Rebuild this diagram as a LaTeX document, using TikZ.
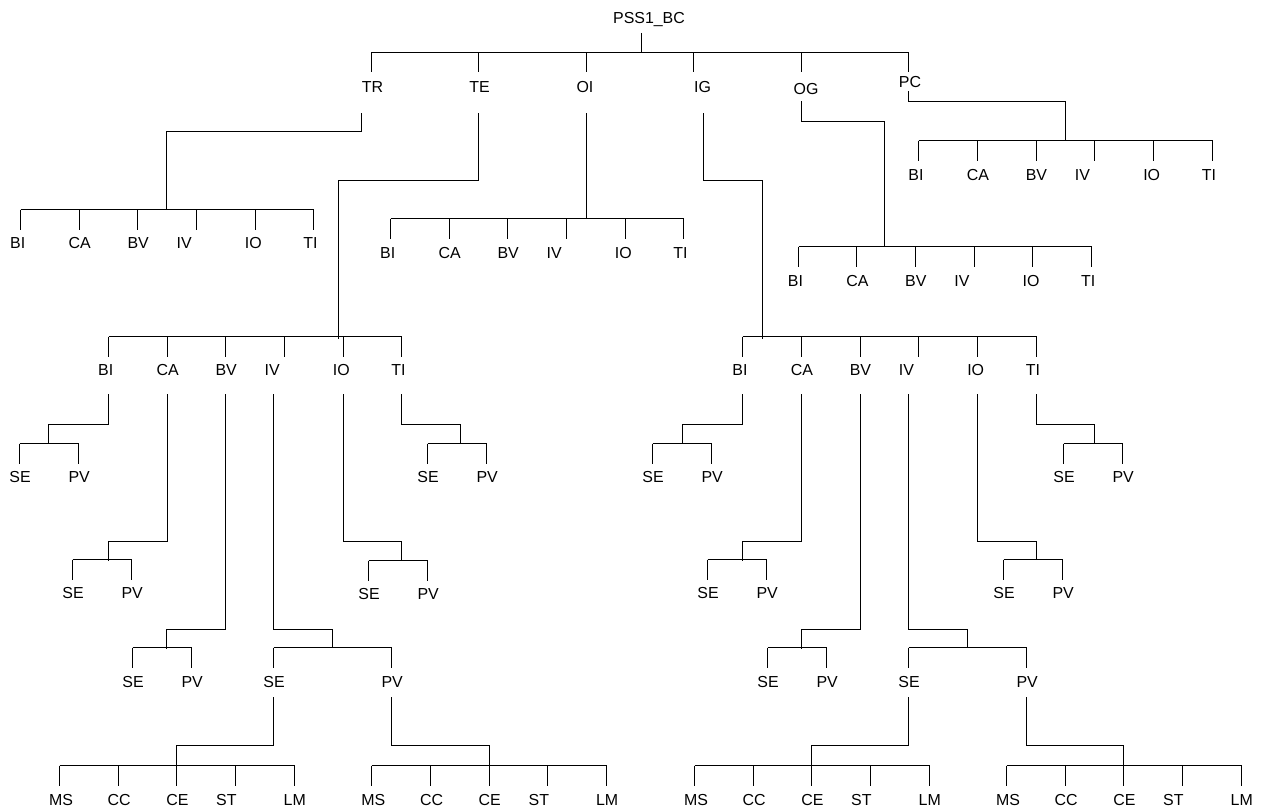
\documentclass[tikz,border=0pt]{standalone}
\usepackage{fontspec}
\setmainfont{Liberation Sans}
\tikzset{
  ln/.style={line width=1.6bp, black},
  lbl/.style={anchor=base, inner sep=0pt, font=\fontsize{16}{19}\selectfont}
}
% six-child group: prefix, first x, bar y, label baseline
\newcommand\sixgrp[4]{%
  \draw[ln] ({round(#2)+0.5},#3) -- ({round(#2+293.35)+0.5},#3);
  \foreach \n/\o [count=\i from 0] in {BI/-2.3,CA/1,BV/0.8,IV/-11.8,IO/-1.3,TI/-2.8}{
    \draw[ln] ({round(#2+\i*58.67)+0.5},#3) -- ++(0,20);
    \node[lbl] (#1\n) at ({#2+\i*58.67+\o},#4) {\n};
  }}
% pair group: prefix, x SE, x PV, bar y, label baseline
\newcommand\pairgrp[5]{%
  \draw[ln] ({round(#2)+0.5},#4) -- ({round(#3)+0.5},#4);
  \draw[ln] ({round(#2)+0.5},#4) -- ++(0,20);
  \draw[ln] ({round(#3)+0.5},#4) -- ++(0,20);
  \node[lbl] (#1SE) at ({#2+1},#5) {SE};
  \node[lbl] (#1PV) at ({#3+1.2},#5) {PV};
}
% five-child group: prefix, first x, bar y, label baseline
\newcommand\fivegrp[4]{%
  \draw[ln] ({round(#2)+0.5},#3) -- ({round(#2+234.8)+0.5},#3);
  \foreach \n/\o [count=\i from 0] in {MS/2,CC/1.5,CE/1,ST/-8.7,LM/1}{
    \draw[ln] ({round(#2+\i*58.7)+0.5},#3) -- ++(0,20.5);
    \node[lbl] (#1\n) at ({#2+\i*58.7+\o},#4) {\n};
  }}
\begin{document}
\begin{tikzpicture}[x=1bp,y=-1bp]
\useasboundingbox (0,0) rectangle (1269,809);
\fill[white] (0,0) rectangle (1269,809);

% root
\node[lbl] (root) at (649,23.3) {PSS1\_BC};
\draw[ln] (641.5,33) -- (641.5,52.5);
\draw[ln] (371.5,52.5) -- (908.5,52.5);
\foreach \x in {371.5,478.5,586.5,693.5,801.5,908.5}{\draw[ln] (\x,52.5) -- (\x,72.5);}
\node[lbl] (TR) at (372.4,92.5) {TR};
\node[lbl] (TE) at (479.5,92.5) {TE};
\node[lbl] (OI) at (585,92.5) {OI};
\node[lbl] (IG) at (702.5,92.5) {IG};
\node[lbl] (OG) at (806,94.5) {OG};
\node[lbl] (PC) at (910,87.3) {PC};

% TR
\draw[ln] (361.5,113) -- (361.5,131.5) -- (166.5,131.5) -- (166.5,209.5);
\sixgrp{tr}{20}{209.5}{248.3}
% TE
\draw[ln] (478.5,113) -- (478.5,180.5) -- (338.5,180.5) -- (338.5,338.5);
\sixgrp{te}{108}{336.5}{375}
% OI
\draw[ln] (586.5,113) -- (586.5,218.5);
\sixgrp{oi}{390}{218.5}{258.3}
% IG
\draw[ln] (703.5,113) -- (703.5,180.5) -- (762.5,180.5) -- (762.5,338.5);
\sixgrp{ig}{742.3}{336.5}{375}
% OG
\draw[ln] (801.5,101.5) -- (801.5,121.5) -- (884.5,121.5) -- (884.5,246.5);
\sixgrp{og}{797.7}{246.5}{286.7}
% PC
\draw[ln] (908.5,91.5) -- (908.5,101.5) -- (1065.5,101.5) -- (1065.5,140.5);
\sixgrp{pc}{918.3}{140.5}{180.7}

% TE children
\draw[ln] (108.5,394) -- (108.5,424.5) -- (48.5,424.5) -- (48.5,443.5);
\pairgrp{teBI}{19}{78}{443.5}{482.7}
\draw[ln] (167.5,394) -- (167.5,541.5) -- (108.5,541.5) -- (108.5,561);
\pairgrp{teCA}{72}{131}{559.5}{598.5}
\draw[ln] (225.5,394) -- (225.5,629.5) -- (166.5,629.5) -- (166.5,649);
\pairgrp{teBV}{132}{191}{647.5}{687}
\draw[ln] (273.5,394) -- (273.5,629.5) -- (332.5,629.5) -- (332.5,647.5);
\pairgrp{teIV}{273}{391}{647.5}{687}
\draw[ln] (343.5,394) -- (343.5,541.5) -- (401.5,541.5) -- (401.5,560.5);
\pairgrp{teIO}{368}{427}{560.5}{599.5}
\draw[ln] (401.5,394) -- (401.5,424.5) -- (460.5,424.5) -- (460.5,443.5);
\pairgrp{teTI}{427}{486}{443.5}{482.7}
\draw[ln] (273.5,697) -- (273.5,745.5) -- (176.5,745.5) -- (176.5,765.5);
\fivegrp{teSE}{59}{765.5}{805}
\draw[ln] (391.5,697) -- (391.5,745.5) -- (489.5,745.5) -- (489.5,765.5);
\fivegrp{tePV}{371.4}{765.5}{805}

% IG children
\draw[ln] (742.5,394) -- (742.5,424.5) -- (682.5,424.5) -- (682.5,443.5);
\pairgrp{igBI}{652}{711}{443.5}{482.7}
\draw[ln] (801.5,394) -- (801.5,541.5) -- (742.5,541.5) -- (742.5,561);
\pairgrp{igCA}{707}{766}{559.5}{598.5}
\draw[ln] (860.5,394) -- (860.5,629.5) -- (801.5,629.5) -- (801.5,649);
\pairgrp{igBV}{767}{826}{647.5}{687}
\draw[ln] (908.5,394) -- (908.5,629.5) -- (967.5,629.5) -- (967.5,647.5);
\pairgrp{igIV}{908}{1026}{647.5}{687}
\draw[ln] (977.5,394) -- (977.5,541.5) -- (1036.5,541.5) -- (1036.5,559.5);
\pairgrp{igIO}{1003}{1062}{559.5}{598.5}
\draw[ln] (1036.5,394) -- (1036.5,424.5) -- (1094.5,424.5) -- (1094.5,443.5);
\pairgrp{igTI}{1063}{1122}{443.5}{482.7}
\draw[ln] (908.5,697) -- (908.5,745.5) -- (811.5,745.5) -- (811.5,765.5);
\fivegrp{igSE}{694}{765.5}{805}
\draw[ln] (1026.5,697) -- (1026.5,745.5) -- (1123.5,745.5) -- (1123.5,765.5);
\fivegrp{igPV}{1006}{765.5}{805}
\end{tikzpicture}
\end{document}
